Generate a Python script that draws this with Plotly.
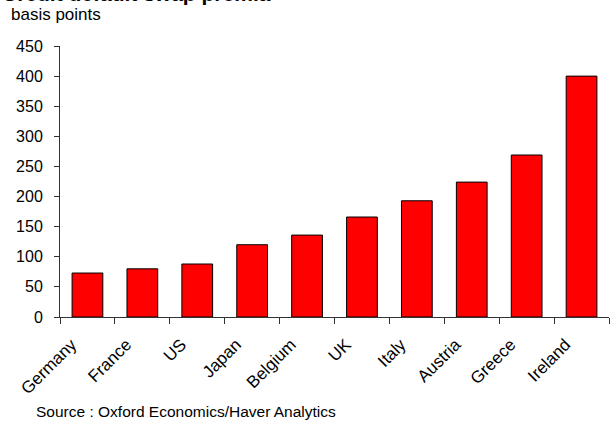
import plotly.graph_objects as go

countries = ["Germany", "France", "US", "Japan", "Belgium", "UK", "Italy", "Austria", "Greece", "Ireland"]
premia = [73, 80, 88, 120, 136, 166, 193, 224, 269, 400]
y_ticks = [0, 50, 100, 150, 200, 250, 300, 350, 400, 450]

FONT = "Liberation Sans, Arial, sans-serif"

fig = go.Figure(go.Bar(
    x=countries, y=premia,
    marker=dict(color="#FF0000", line=dict(color="#000000", width=1)),
    width=0.56,
))

fig.update_layout(
    width=611, height=423,
    margin=dict(l=60, r=2, t=46, b=106, autoexpand=False),
    paper_bgcolor="white", plot_bgcolor="white",
    showlegend=False,
    font=dict(family=FONT, size=14, color="black"),
    xaxis=dict(
        type="category", tickangle=-45, tickson="boundaries", automargin=False,
        ticks="outside", ticklen=6, tickcolor="#333", showline=True,
        linecolor="#333", linewidth=1, showgrid=False,
        ticklabelshift=-16, ticklabelstandoff=10,
        tickfont=dict(family=FONT, size=17, color="black"),
    ),
    yaxis=dict(
        range=[0, 450], tickvals=y_ticks, ticks="outside", ticklen=5, automargin=False,
        tickcolor="#333", showline=True, linecolor="#333", linewidth=1,
        showgrid=False, zeroline=False, ticklabelstandoff=8,
        tickfont=dict(family=FONT, size=16, color="black"),
    ),
    annotations=[
        dict(text="<b>Credit default swap premia</b>", xref="paper", yref="paper",
             x=-60/549, xanchor="left", y=1 + 39/271, yanchor="bottom",
             showarrow=False, font=dict(family=FONT, size=21, color="black")),
        dict(text="basis points", xref="paper", yref="paper",
             x=-51/549, xanchor="left", y=1 + 20/271, yanchor="bottom",
             showarrow=False, font=dict(family=FONT, size=17, color="black")),
        dict(text="Source : Oxford Economics/Haver Analytics", xref="paper", yref="paper",
             x=-26/549, xanchor="left", y=-(401-317)/271, yanchor="top",
             showarrow=False, font=dict(family=FONT, size=15.5, color="black")),
    ],
)

fig.write_html("out.html", config={"displayModeBar": False},
               post_script="document.body.style.margin='0';")
